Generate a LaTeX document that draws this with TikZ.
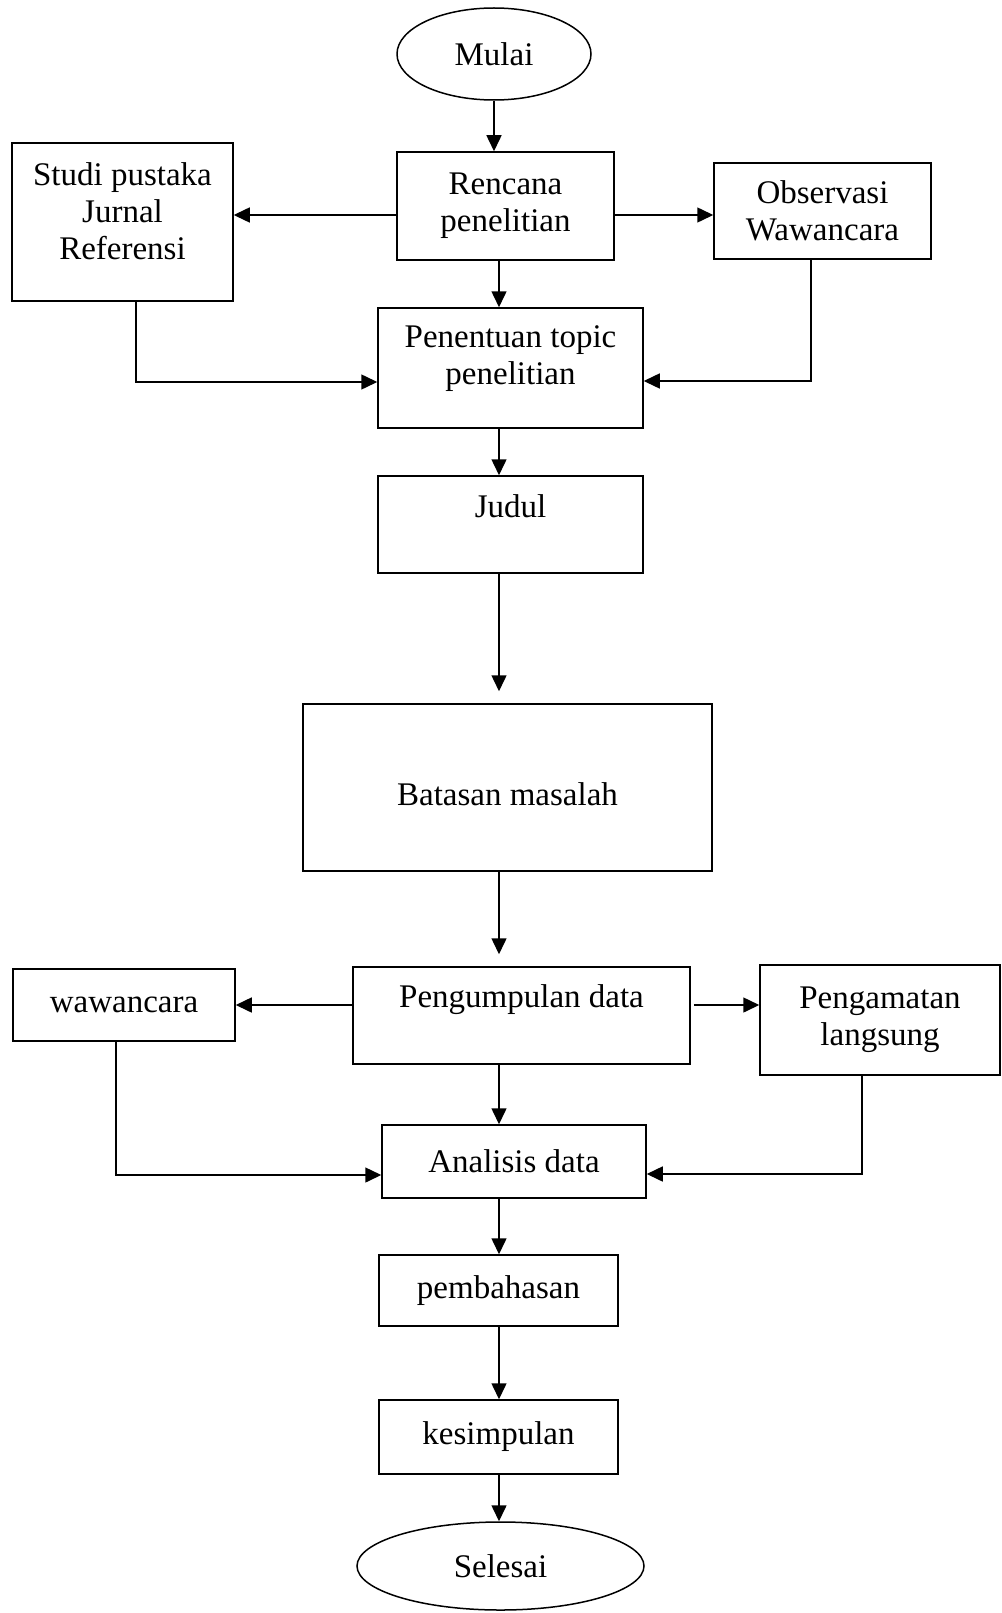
\documentclass[tikz,border=0pt]{standalone}
\usepackage{fontspec}
\setmainfont{Liberation Serif}
\usetikzlibrary{arrows.meta,shapes.geometric}
\begin{document}
\begin{tikzpicture}[x=1pt, y=-1pt, line width=1.5pt, >={Triangle[length=16pt,width=15pt]},
  main box/.style={rectangle,draw,align=center,inner sep=0pt,font=\fontsize{33}{37}\selectfont},
  end node/.style={ellipse,draw,inner sep=0pt,font=\fontsize{33}{37}\selectfont},
  lift/.style={text depth=#1},
  sink/.style={text height=#1}]%
\useasboundingbox (0,0) rectangle (1001,1613);
\begin{scope}
\node[end node, minimum width=194pt, minimum height=92pt] (mulai) at (494,54) {Mulai};
\node[main box, minimum width=217pt, minimum height=108pt] (rencana) at (505.5,206) {Rencana\\penelitian};
\node[main box, minimum width=221pt, minimum height=158pt, lift=22pt] (studi) at (122.5,222) {Studi pustaka\\Jurnal\\Referensi};
\node[main box, minimum width=217pt, minimum height=96pt] (observasi) at (822.5,211) {Observasi\\Wawancara};
\node[main box, minimum width=265pt, minimum height=120pt, lift=25pt] (penentuan) at (510.5,368) {Penentuan topic\\penelitian};
\node[main box, minimum width=265pt, minimum height=97pt, lift=36pt] (judul) at (510.5,524.5) {Judul};
\node[main box, minimum width=409pt, minimum height=167pt, sink=37pt] (batasan) at (507.5,787.5) {Batasan masalah};
\node[main box, minimum width=337pt, minimum height=97pt, lift=39pt] (pengumpulan) at (521.5,1015.5) {Pengumpulan data};
\node[main box, minimum width=222pt, minimum height=72pt] (wawancara) at (124,1005) {wawancara};
\node[main box, minimum width=240pt, minimum height=110pt] (pengamatan) at (880,1020) {Pengamatan\\langsung};
\node[main box, minimum width=264pt, minimum height=73pt] (analisis) at (514,1161.5) {Analisis data};
\node[main box, minimum width=239pt, minimum height=71pt] (pembahasan) at (498.5,1290.5) {pembahasan};
\node[main box, minimum width=239pt, minimum height=74pt] (kesimpulan) at (498.5,1437) {kesimpulan};
\node[end node, minimum width=287pt, minimum height=88pt] (selesai) at (500.5,1566) {Selesai};
%\node[main box] () at (,) {};
\end{scope}
\coordinate (spine) at (499,0);
\coordinate (row1) at (0,215);
\coordinate (row2) at (0,1005);
\coordinate (lcol) at (136,382);
\coordinate (rcol) at (811,381);
\coordinate (lcol2) at (116,1175);
\coordinate (rcol2) at (862,1174);
\begin{scope}
\draw[->] (mulai.south) -- (mulai.south |- rencana.north);
\draw[->] (rencana.west |- row1) -- (studi.east |- row1);
\draw[->] (rencana.east |- row1) -- (observasi.west |- row1);
\draw[->] (rencana.south -| spine) -- (penentuan.north -| spine);
\draw[->] (studi.south -| lcol) |- (penentuan.west |- lcol);
\draw[->] (observasi.south -| rcol) |- (penentuan.east |- rcol);
\draw[->] (penentuan.south -| spine) -- (judul.north -| spine);
\draw[->, shorten >=12pt] (judul.south -| spine) -- (batasan.north -| spine);
\draw[->, shorten >=12pt] (batasan.south -| spine) -- (pengumpulan.north -| spine);
\draw[->] (pengumpulan.west |- row2) -- (wawancara.east |- row2);
\draw[->, shorten <=3pt] (pengumpulan.east |- row2) -- (pengamatan.west |- row2);
\draw[->] (pengumpulan.south -| spine) -- (analisis.north -| spine);
\draw[->] (wawancara.south -| lcol2) |- (analisis.west |- lcol2);
\draw[->] (pengamatan.south -| rcol2) |- (analisis.east |- rcol2);
\draw[->] (analisis.south -| spine) -- (pembahasan.north -| spine);
\draw[->] (pembahasan.south -| spine) -- (kesimpulan.north -| spine);
\draw[->] (kesimpulan.south -| spine) -- (selesai.north -| spine);
%\draw[->] () -- ();
\end{scope}
\end{tikzpicture}
\end{document}
